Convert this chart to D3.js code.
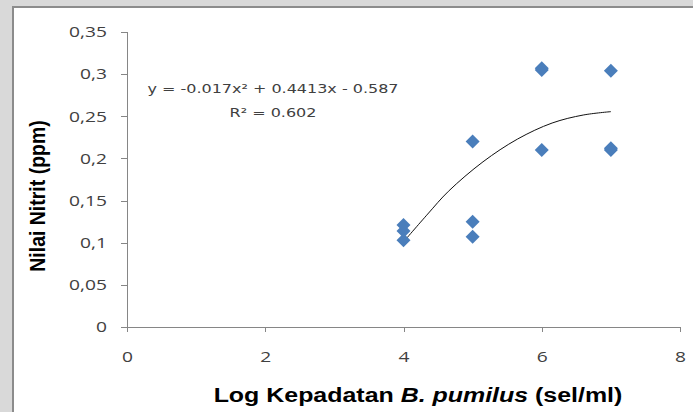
<!DOCTYPE html>
<html>
<head>
<meta charset="utf-8">
<script src="https://cdn.jsdelivr.net/npm/d3@7"></script>
<style>
html,body{margin:0;padding:0;background:#d9d9d9;}
svg{display:block;}
</style>
</head>
<body>
<svg id="chart" width="693" height="412"></svg>
<script>
// Data
const logDensity = [4, 4, 4, 5, 5, 5, 6, 6, 6, 7, 7, 7];
const nitrite    = [0.103, 0.114, 0.121, 0.220, 0.125, 0.107, 0.305, 0.307, 0.210, 0.304, 0.210, 0.212];
// Trendline as drawn in the reference
const trendX = [4.0, 4.35, 4.65, 5.15, 5.65, 6.15, 6.6, 7.0];
const trendY = [0.101, 0.134, 0.161, 0.196, 0.223, 0.242, 0.2515, 0.2555];
const xTicks = [0, 2, 4, 6, 8];
const yTicks = [0, 0.05, 0.1, 0.15, 0.2, 0.25, 0.3, 0.35];
const equationText = "y = -0.017x² + 0.4413x - 0.587";
const r2Text = "R² = 0.602";
const yTitle = "Nilai Nitrit (ppm)";

const K = 1.28; // horizontal stretch of all text in the reference

const svg = d3.select("#chart");
svg.append("rect").attr("x", 13).attr("y", 7).attr("width", 700).attr("height", 420)
  .attr("fill", "#ffffff").attr("stroke", "#8c8c8c").attr("stroke-width", 2);

const x = d3.scaleLinear().domain([0, 8]).range([127, 680]);
const y = d3.scaleLinear().domain([0, 0.35]).range([327, 32]);

const fmt = d => String(d).replace(".", ",");
const tickFont = "'Open Sans', 'Liberation Sans', sans-serif";

function stretch(sel, k) {
  sel.each(function () {
    const w = this.getComputedTextLength();
    d3.select(this).attr("textLength", w * k).attr("lengthAdjust", "spacingAndGlyphs");
  });
}

const xAxis = svg.append("g").attr("transform", `translate(0,${y(0)})`)
  .call(d3.axisBottom(x).tickValues(xTicks).tickSize(5).tickPadding(19).tickFormat(d => d));
const yAxis = svg.append("g").attr("transform", `translate(${x(0)},0)`)
  .call(d3.axisLeft(y).tickValues(yTicks).tickSize(6).tickPadding(14).tickFormat(fmt));
[xAxis, yAxis].forEach(g => {
  g.selectAll("path,line").attr("stroke", "#868686").attr("shape-rendering", "crispEdges");
  g.selectAll("text").attr("fill", "#404040").style("font-family", tickFont).style("font-size", "15px");
  stretch(g.selectAll("text"), K);
});

// trendline
svg.append("path")
  .datum(trendX.map((d, i) => [d, trendY[i]]))
  .attr("fill", "none").attr("stroke", "#111").attr("stroke-width", 1)
  .attr("d", d3.line().x(d => x(d[0])).y(d => y(d[1])).curve(d3.curveCatmullRom));

// diamonds
svg.append("g").selectAll("path")
  .data(logDensity.map((d, i) => [d, nitrite[i]]))
  .join("path")
  .attr("transform", d => `translate(${x(d[0])},${y(d[1])}) rotate(45)`)
  .attr("d", d3.symbol().type(d3.symbolSquare).size(98))
  .attr("fill", "#4a7ebb");

// equation
const eqFont = "'DejaVu Sans', Verdana, sans-serif";
svg.append("text").attr("transform", `translate(273,93) scale(${K},1)`).attr("text-anchor", "middle")
  .style("font-family", eqFont).style("font-size", "12.5px")
  .attr("fill", "#404040").text(equationText);
svg.append("text").attr("transform", `translate(273,117) scale(${K},1)`).attr("text-anchor", "middle")
  .style("font-family", eqFont).style("font-size", "12.5px")
  .attr("fill", "#404040").text(r2Text);

// axis titles
const titleFont = "'Liberation Sans', Arial, sans-serif";
svg.append("text").attr("transform", `translate(45,196) scale(1.15,1) rotate(-90)`).attr("text-anchor", "middle")
  .style("font-family", titleFont).style("font-size", "19.5px")
  .style("font-weight", "bold").attr("fill", "#000").text(yTitle);

const xt = svg.append("text").attr("transform", `translate(418,402) scale(${K},1)`).attr("text-anchor", "middle")
  .style("font-family", titleFont).style("font-size", "19.5px")
  .style("font-weight", "bold").attr("fill", "#000");
xt.append("tspan").text("Log Kepadatan ");
xt.append("tspan").style("font-style", "italic").text("B. pumilus");
xt.append("tspan").text(" (sel/ml)");
</script>
</body>
</html>
